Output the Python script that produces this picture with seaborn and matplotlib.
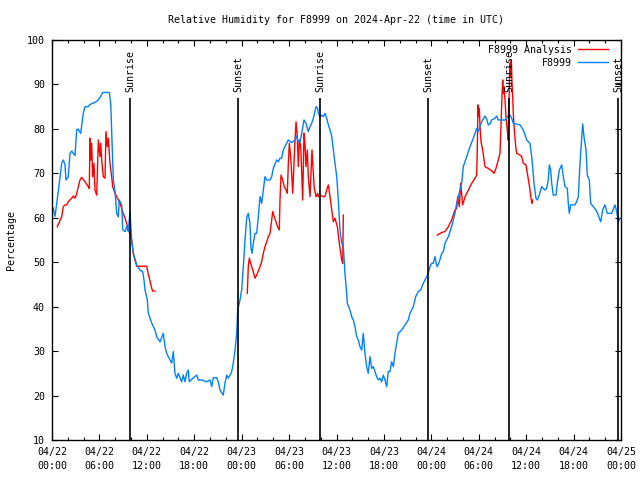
import pandas as pd
import numpy as np
import matplotlib
matplotlib.use("Agg")
import matplotlib.pyplot as plt
import matplotlib.dates as mdates
from matplotlib.lines import Line2D
import seaborn as sns

# hours after 2024-04-22 00:00 UTC, relative humidity (%)
obs_hours = [0.16, 0.38, 0.80, 1.23, 1.43, 1.64, 1.77, 2.06, 2.28, 2.49, 2.91, 3.13, 3.29, 3.63, 3.96,
             4.18, 4.59, 4.81, 5.23, 5.66, 6.07, 6.42, 7.25, 7.43, 7.76, 7.97, 8.19, 8.39, 8.52, 8.82,
             8.95, 9.24, 9.45, 9.65, 9.87, 10.08, 10.29, 10.72, 11.13, 11.47, 11.64, 11.77, 12.06, 12.19,
             12.62, 13.03, 13.25, 13.67, 14.08, 14.30, 14.51, 14.93, 15.15, 15.35, 15.56, 15.78, 15.98,
             16.41, 16.61, 16.83, 17.04, 17.25, 17.37, 17.88, 18.31, 18.51, 18.94, 19.57, 19.99, 20.21,
             20.41, 20.84, 21.04, 21.26, 21.67, 21.89, 22.11, 22.31, 22.52, 22.74, 22.94, 23.16, 23.37,
             23.50, 23.79, 24.00, 24.21, 24.42, 24.64, 24.84, 25.05, 25.18, 25.31, 25.47, 25.69, 25.90,
             26.11, 26.32, 26.53, 26.74, 26.95, 27.17, 27.59, 27.80, 28.00, 28.43, 28.64, 28.85, 29.06,
             29.27, 29.48, 29.90, 30.33, 30.75, 30.96, 31.17, 31.38, 31.60, 31.89, 32.14, 32.43, 32.65,
             32.86, 33.07, 33.41, 33.62, 33.70, 33.91, 34.13, 34.33, 34.54, 34.76, 34.97, 35.18, 35.40,
             35.60, 35.81, 36.03, 36.23, 36.44, 36.66, 36.86, 37.07, 37.29, 37.37, 37.71, 37.92, 38.13,
             38.34, 38.56, 38.76, 38.97, 39.19, 39.39, 39.60, 39.82, 40.02, 40.24, 40.45, 40.65, 40.87,
             41.08, 41.29, 41.50, 41.71, 41.92, 42.14, 42.35, 42.55, 42.77, 42.98, 43.19, 43.40, 43.61,
             43.82, 44.25, 44.67, 45.08, 45.30, 45.72, 46.02, 46.35, 46.65, 46.98, 47.32, 47.61, 47.83,
             48.04, 48.25, 48.46, 48.63, 48.75, 49.01, 49.31, 49.51, 49.73, 50.15, 50.57, 50.78, 50.99,
             51.21, 51.41, 51.63, 51.84, 52.04, 52.47, 52.90, 53.31, 53.52, 53.74, 53.94, 54.16, 54.37,
             54.79, 55.00, 55.21, 55.42, 55.63, 56.05, 56.27, 56.47, 57.32, 57.53, 57.74, 57.95, 58.17,
             58.37, 59.22, 59.64, 60.07, 60.48, 60.70, 60.82, 60.99, 61.24, 61.41, 61.66, 61.96, 62.17,
             62.38, 62.59, 62.80, 62.93, 63.10, 63.23, 63.43, 63.78, 63.94, 64.20, 64.50, 64.70, 64.92,
             65.21, 65.33, 65.46, 65.63, 66.17, 66.39, 66.60, 66.81, 67.02, 67.15, 67.32, 67.57, 67.74,
             67.99, 68.16, 68.49, 68.83, 69.12, 69.43, 69.68, 69.97, 70.26, 70.82, 71.24, 71.46, 71.66,
             71.87]
obs_rh = [62.2, 60.3, 66.0, 72.3, 73.0, 72.0, 68.5, 69.2, 74.5, 75.0, 74.0, 79.8, 80.0, 79.0, 83.5,
          85.0, 85.0, 85.5, 85.8, 86.2, 87.0, 88.2, 88.2, 85.8, 68.5, 66.0, 61.0, 60.2, 64.0, 62.9,
          57.3, 56.9, 58.0, 56.9, 61.4, 55.0, 52.0, 49.4, 48.2, 47.9, 46.0, 43.8, 41.5, 38.5,
          36.3, 34.75, 33.2, 32.1, 34.0, 31.0, 29.5, 28.0, 27.3, 29.9, 25.0, 23.9, 25.0,
          23.1, 24.6, 23.1, 25.0, 25.75, 23.1, 24.0, 24.6, 23.5, 23.5, 23.1, 23.5, 22.0,
          24.0, 24.0, 23.1, 21.25, 20.1, 22.8, 24.6, 23.9, 24.6, 25.4, 27.3, 30.25, 34.0,
          39.25, 41.5, 43.75, 49.0, 55.0, 60.0, 61.0, 58.75, 53.1, 52.0, 54.25, 56.5, 56.5,
          60.25, 64.75, 63.25, 66.25, 69.25, 68.5, 68.5, 69.25, 71.1, 73.0, 72.6, 73.4, 73.4,
          75.25, 76.0, 77.5, 76.9, 77.5, 78.4, 77.1, 77.1, 79.0, 82.0, 81.25, 79.4, 80.5,
          81.25, 82.4, 85.0, 84.6, 83.5, 82.75, 83.1, 82.75, 83.5, 82.4, 80.9, 79.75, 78.25,
          75.25, 72.25, 69.25, 64.0, 57.25, 54.25, 53.8, 47.5, 43.0, 40.75, 39.25, 37.75, 37.0,
          35.5, 33.25, 32.5, 31.0, 30.25, 34.0, 29.5, 26.5, 25.0, 28.75, 26.1, 26.5, 25.4,
          24.25, 23.5, 23.9, 23.1, 24.6, 23.5, 22.0, 25.4, 25.4, 27.6, 26.5, 29.5, 31.75,
          34.0, 34.75, 35.9, 37.0, 38.5, 40.0, 42.25, 43.4, 43.75, 45.25, 46.4, 47.5, 49.0,
          49.75, 49.75, 51.25, 49.6, 49.0, 50.1, 52.0, 52.3, 54.25, 55.75, 58.0, 59.5, 61.0,
          63.25, 64.75, 66.25, 67.75, 71.5, 73.75, 76.0, 77.9, 79.0, 80.1, 79.4, 80.5, 81.6,
          82.9, 82.2, 80.9, 81.1, 82.0, 82.4, 82.9, 82.0, 82.0, 82.4, 83.1, 83.1, 82.4,
          81.25, 80.9, 79.75, 77.5, 76.75, 73.75, 71.5, 67.75, 64.4, 64.0, 65.1, 67.0, 66.6,
          66.25, 66.6, 68.5, 71.9, 70.75, 67.75, 65.1, 65.1, 67.75, 70.75, 71.9, 69.25, 67.0,
          66.6, 63.25, 61.0, 62.9, 62.9, 63.6, 64.75, 72.25, 77.5, 81.1, 78.25, 75.25, 69.6,
          68.5, 63.25, 62.5, 61.75, 60.6, 59.1, 61.75, 62.9, 61.0, 61.0, 62.9, 61.4, 59.1,
          59.9]

# analysis, three separate runs
ana1_hours = [0.67, 1.23, 1.43, 1.64, 1.86, 2.06, 2.49, 2.70, 2.91, 3.13, 3.33, 3.54, 3.76, 4.18, 4.59,
              4.72, 4.81, 4.90, 5.02, 5.15, 5.31, 5.44, 5.66, 5.86, 6.07, 6.16, 6.29, 6.49, 6.71, 6.83,
              7.00, 7.12, 7.34, 7.55, 7.68, 7.97, 8.39, 8.60, 8.82, 9.02, 9.45, 9.65, 9.87, 10.08, 10.29,
              10.50, 10.72, 11.98, 12.19, 12.40, 12.62, 12.74, 13.03]
ana1_rh = [58.0, 60.25, 62.5, 62.9, 62.9, 63.6, 64.4, 64.9, 64.4, 65.5, 67.0, 68.5, 69.1, 68.1, 67.0,
           66.6, 77.9, 73.0, 76.75, 69.25, 72.25, 66.25, 65.1, 77.5, 73.75, 76.75, 73.0, 69.25, 68.9, 79.4,
           76.0, 77.9, 72.25, 69.25, 67.0, 65.5, 64.0, 63.25, 62.1, 61.0, 58.75, 57.25, 56.5, 55.0, 52.0,
           50.5, 49.1, 49.1, 47.3, 45.8, 44.1, 43.5, 43.5]
ana2_hours = [24.71, 24.84, 24.97, 25.14, 25.40, 25.69, 25.90, 26.32, 26.53, 26.74, 26.95, 27.17, 27.37,
              27.59, 27.80, 27.93, 28.13, 28.34, 28.55, 28.76, 28.85, 28.98, 29.19, 29.39, 29.61, 29.77,
              29.90, 30.03, 30.20, 30.33, 30.46, 30.75, 30.88, 31.04, 31.17, 31.30, 31.47, 31.60, 31.72,
              31.89, 32.01, 32.14, 32.31, 32.43, 32.65, 32.77, 32.90, 33.07, 33.19, 33.41, 33.62, 33.70,
              33.91, 34.33, 34.54, 34.76, 34.97, 35.18, 35.40, 35.60, 35.81, 36.11, 36.36, 36.54, 36.66,
              36.79, 36.86]
ana2_rh = [43.0, 49.0, 50.9, 49.75, 48.25, 46.4, 47.1, 49.0, 50.1, 52.0, 53.5, 54.6, 55.75,
           56.5, 59.5, 61.4, 60.25, 59.1, 58.0, 57.25, 64.0, 69.6, 68.5, 67.0, 66.25, 65.5,
           71.9, 76.75, 73.75, 70.0, 65.5, 77.5, 81.6, 78.25, 71.5, 77.5, 76.0, 70.0, 64.0,
           79.0, 76.75, 71.5, 75.25, 69.25, 64.75, 70.0, 75.25, 70.0, 66.6, 64.75, 65.5, 64.75,
           65.1, 64.75, 64.75, 66.25, 67.4, 64.75, 61.75, 59.1, 59.9, 58.0, 54.25, 52.0, 50.5,
           49.75, 60.6]
ana3_hours = [48.75, 49.31, 49.73, 50.15, 50.36, 50.57, 50.78, 50.99, 51.21, 51.33, 51.54, 51.71, 51.96,
              52.27, 52.69, 53.11, 53.53, 53.74, 53.81, 53.90, 53.99, 54.07, 54.16, 54.29, 54.50, 54.79,
              55.21, 55.63, 55.93, 56.18, 56.47, 56.69, 56.81, 56.94, 57.03, 57.11, 57.20, 57.32, 57.45,
              57.61, 57.71, 57.79, 57.87, 57.95, 58.04, 58.12, 58.21, 58.30, 58.37, 58.50, 58.68, 58.81,
              59.22, 59.43, 59.64, 59.98, 60.15, 60.36, 60.48, 60.61, 60.73, 60.82]
ana3_rh = [56.1, 56.7, 56.9, 58.0, 58.75, 59.5, 60.6, 61.75, 62.1, 64.75, 62.5, 67.75, 62.9,
           64.75, 66.25, 67.75, 68.9, 69.6, 75.25, 85.4, 82.75, 84.6, 80.5, 77.1, 75.25, 71.5,
           71.1, 70.6, 70.0, 71.1, 73.0, 74.5, 80.5, 87.25, 91.0, 88.0, 89.5, 86.5, 82.75,
           79.75, 77.5, 82.75, 89.9, 94.75, 91.75, 95.5, 90.25, 87.25, 83.5, 79.75, 76.0, 74.5,
           74.1, 73.75, 72.25, 71.9, 70.0, 67.75, 66.25, 64.4, 63.25, 64.0]

sun_times = ["2024-04-22 09:52", "2024-04-22 23:32", "2024-04-23 09:55",
             "2024-04-23 23:35", "2024-04-24 09:50", "2024-04-24 23:40"]
sun_labels = ["Sunrise", "Sunset", "Sunrise", "Sunset", "Sunrise", "Sunset"]

start = pd.Timestamp("2024-04-22 00:00")


def to_frame(hours, rh, name, seg):
    return pd.DataFrame({"time": start + pd.to_timedelta(hours, unit="h"),
                         "rh": rh, "series": name, "seg": seg})


df = pd.concat([
    to_frame(ana1_hours, ana1_rh, "F8999 Analysis", 1),
    to_frame(ana2_hours, ana2_rh, "F8999 Analysis", 2),
    to_frame(ana3_hours, ana3_rh, "F8999 Analysis", 3),
    to_frame(obs_hours, obs_rh, "F8999", 4),
], ignore_index=True)

colors = {"F8999 Analysis": "#ff0000", "F8999": "#0080ff"}
font = "DejaVu Sans Mono"
fs = 7.2

plt.rcParams["font.family"] = font
fig = plt.figure(figsize=(6.4, 4.8), dpi=100)
ax = fig.add_axes([52 / 640, 40 / 480, 569 / 640, 400 / 480])

sns.lineplot(data=df, x="time", y="rh", hue="series", units="seg", estimator=None,
             palette=colors, hue_order=["F8999 Analysis", "F8999"], linewidth=1.0,
             legend=False, ax=ax)

# sunrise / sunset markers
for t, lab in zip(sun_times, sun_labels):
    tt = pd.Timestamp(t)
    ax.vlines(tt, 10, 87, color="black", linewidth=1.2)
    ax.text(tt, 88.3, lab, rotation=90, ha="center", va="bottom", fontsize=fs, family=font)

ax.set_xlim(pd.Timestamp("2024-04-22 00:00"), pd.Timestamp("2024-04-25 00:00"))
ax.set_ylim(10, 100)
ax.set_yticks(range(10, 101, 10))
ax.xaxis.set_major_locator(mdates.HourLocator(byhour=[0, 6, 12, 18]))
ax.xaxis.set_minor_locator(mdates.HourLocator(interval=2))
ax.xaxis.set_major_formatter(mdates.DateFormatter("%m/%d\n%H:%M"))
for lbl in ax.get_xticklabels():
    lbl.set_linespacing(1.5)

ax.tick_params(axis="both", which="both", direction="in", top=True, right=True,
               labelsize=fs, colors="black")
ax.tick_params(axis="both", which="major", length=4, width=0.8, pad=5)
ax.tick_params(axis="both", which="minor", length=2, width=0.8)
for s in ax.spines.values():
    s.set_color("black")
    s.set_linewidth(1.0)

ax.set_xlabel("")
ax.set_ylabel("Percentage", fontsize=fs, labelpad=8)
ax.set_title("Relative Humidity for F8999 on 2024-Apr-22 (time in UTC)", fontsize=fs, pad=12)

handles = [Line2D([], [], color=colors["F8999 Analysis"], linewidth=1.0),
           Line2D([], [], color=colors["F8999"], linewidth=1.0)]
ax.legend(handles, ["F8999 Analysis", "F8999"], loc="upper right", bbox_to_anchor=(0.982, 0.995),
          frameon=False, markerfirst=False, fontsize=fs, handlelength=3.0, labelspacing=0.3,
          borderaxespad=0.1, borderpad=0.2, handletextpad=0.6)

fig.savefig("out.png", dpi=100)
